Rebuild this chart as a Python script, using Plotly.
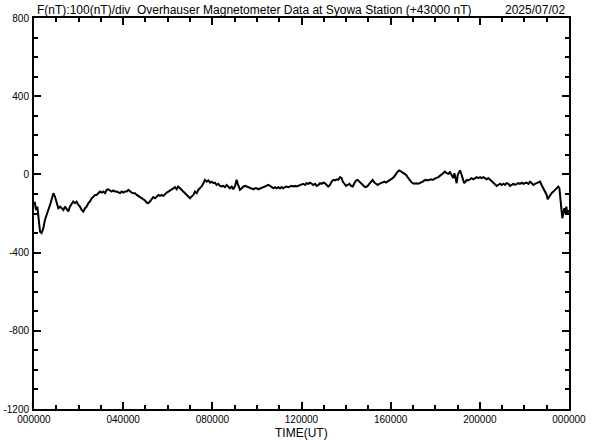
import plotly.graph_objects as go

# Time (hours UT) and F deviation (nT, offset +43000 nT)
time_h = [
    0.03, 0.09, 0.15, 0.21, 0.27, 0.34, 0.42, 0.49, 0.57, 0.64, 0.72, 0.79, 0.87, 0.94,
    1.02, 1.09, 1.17, 1.24, 1.32, 1.39, 1.47, 1.54, 1.61, 1.69, 1.76, 1.84, 1.91, 1.99,
    2.06, 2.14, 2.21, 2.29, 2.36, 2.44, 2.51, 2.59, 2.66, 2.74, 2.81, 2.89, 2.96, 3.04,
    3.11, 3.19, 3.26, 3.33, 3.41, 3.48, 3.56, 3.63, 3.71, 3.78, 3.86, 3.93, 4.01, 4.08,
    4.16, 4.23, 4.31, 4.38, 4.46, 4.53, 4.61, 4.68, 4.76, 4.83, 4.90, 4.98, 5.05, 5.13,
    5.20, 5.28, 5.35, 5.43, 5.50, 5.58, 5.65, 5.73, 5.80, 5.88, 5.95, 6.03, 6.10,
    6.18, 6.25, 6.33, 6.40, 6.47, 6.55, 6.62, 6.70, 6.77, 6.85, 6.92, 7.00, 7.07, 7.15,
    7.22, 7.30, 7.37, 7.45, 7.52, 7.60, 7.67, 7.75, 7.82, 7.90, 7.97, 8.05, 8.12, 8.19,
    8.27, 8.34, 8.42, 8.49, 8.57, 8.64, 8.72, 8.79, 8.87, 8.94, 9.02, 9.09, 9.14, 9.20,
    9.24, 9.32, 9.39, 9.47, 9.54, 9.62, 9.69, 9.76, 9.84, 9.91, 9.99, 10.06, 10.14, 10.21,
    10.29, 10.36, 10.44, 10.51, 10.59, 10.66, 10.74, 10.81, 10.89, 10.96, 11.04, 11.11,
    11.18, 11.26, 11.33, 11.41, 11.48, 11.56, 11.63, 11.71, 11.78, 11.86, 11.93,
    12.01, 12.08, 12.16, 12.23, 12.31, 12.38, 12.46, 12.53, 12.61, 12.68, 12.76, 12.83,
    12.90, 12.98, 13.05, 13.13, 13.20, 13.28, 13.35, 13.43, 13.50, 13.58, 13.65, 13.73,
    13.80, 13.85, 13.91, 14.00, 14.07, 14.15, 14.22, 14.30, 14.37, 14.45, 14.52, 14.59,
    14.67, 14.74, 14.82, 14.89, 14.97, 15.04, 15.12, 15.19, 15.27, 15.34, 15.42, 15.49,
    15.57, 15.64, 15.72, 15.79, 15.87, 15.94, 16.02, 16.09, 16.16, 16.24, 16.31, 16.39,
    16.46, 16.54, 16.61, 16.69, 16.76, 16.84, 16.91, 16.99, 17.06, 17.14, 17.21, 17.29,
    17.36, 17.44, 17.51, 17.59, 17.66, 17.73, 17.81, 17.88, 17.96, 18.03,
    18.14, 18.21, 18.29, 18.36, 18.44, 18.51, 18.59, 18.66, 18.74, 18.81, 18.86, 18.92,
    18.96, 19.01, 19.07, 19.11, 19.16, 19.21, 19.26, 19.30, 19.36, 19.41, 19.48, 19.56,
    19.63, 19.71, 19.78, 19.86, 19.93, 20.01, 20.08, 20.16, 20.23, 20.31, 20.38, 20.46,
    20.53, 20.61, 20.68, 20.76, 20.83, 20.91, 20.98, 21.06, 21.13, 21.20, 21.28, 21.35,
    21.43, 21.50, 21.58, 21.65, 21.73, 21.80, 21.88, 21.95, 22.03, 22.10, 22.18, 22.25,
    22.33, 22.40, 22.48, 22.55, 22.62, 22.70, 22.77, 22.85, 22.92, 23.00, 23.04, 23.10,
    23.16, 23.22, 23.30, 23.37, 23.45, 23.52, 23.57, 23.61, 23.66, 23.70, 23.75, 23.79,
    23.84, 23.88, 23.93, 23.97,
]
f_nt = [
    -140, -182, -165, -224, -293, -300, -275, -233, -198, -182, -156, -122, -96, -113,
    -140, -173, -165, -173, -182, -165, -182, -190, -165, -147, -139, -147, -139, -156,
    -165, -182, -190, -173, -165, -147, -139, -122, -113, -105, -105, -96, -88, -93,
    -88, -96, -79, -76, -82, -88, -82, -88, -88, -93, -96, -88, -93, -88,
    -88, -79, -88, -93, -96, -96, -105, -110, -113, -122, -127, -133, -144, -147,
    -139, -127, -116, -122, -113, -105, -110, -105, -110, -99, -93, -88, -82,
    -76, -71, -65, -76, -62, -71, -79, -88, -96, -105, -113, -122, -113, -105,
    -88, -96, -79, -71, -62, -45, -28, -37, -31, -42, -37, -45, -42, -54,
    -48, -59, -62, -59, -65, -54, -62, -71, -62, -76, -59, -28, -48, -71,
    -79, -71, -62, -59, -62, -65, -71, -71, -76, -71, -71, -76, -71, -71,
    -65, -62, -59, -54, -59, -65, -71, -65, -71, -65, -71, -65,
    -71, -65, -62, -65, -62, -59, -62, -59, -62, -59, -54,
    -54, -48, -54, -45, -48, -42, -48, -54, -48, -59, -54, -45,
    -48, -42, -45, -54, -62, -54, -37, -28, -31, -25, -28, -14,
    -19, -37, -48, -59, -54, -48, -59, -62, -45, -31, -28, -37,
    -42, -54, -62, -65, -59, -48, -37, -28, -42, -48, -54, -48,
    -45, -42, -37, -42, -37, -31, -25, -19, -11, 3, 14, 20,
    14, 9, 3, -2, -14, -28, -37, -45, -48, -45, -48, -45,
    -42, -37, -31, -28, -31, -28, -25, -28, -25, -19,
    -14, -8, -2, 6, 14, 6, 3, 11, -2, -19, 6, -28,
    -45, -2, 9, 20, 6, -11, -28, -45, -37, -28, -31, -25,
    -19, -25, -19, -14, -19, -14, -19, -14, -19, -25, -19, -28,
    -37, -45, -54, -59, -54, -48, -54, -48, -54, -45, -48, -59,
    -54, -48, -54, -48, -45, -48, -42, -48, -45, -42, -48, -37,
    -45, -54, -48, -45, -42, -37, -54, -71, -88, -105, -127, -116,
    -105, -96, -88, -79, -71, -62, -71, -133, -182, -224, -198, -173,
    -198, -165, -207, -182,
]

x_tick_vals = [0, 4, 8, 12, 16, 20, 24]
x_tick_text = ["000000", "040000", "080000", "120000", "160000", "200000", "000000"]
y_tick_vals = [800, 400, 0, -400, -800, -1200]
y_tick_text = ["800", "400", "0", "-400", "-800", "-1200"]

title_text = "F(nT):100(nT)/div  Overhauser Magnetometer Data at Syowa Station (+43000 nT)"
date_text = "2025/07/02"
x_title = "TIME(UT)"

FONT = "Liberation Sans, Arial, sans-serif"
X_RANGE = [0, 24]
Y_RANGE = [-1200, 800]

fig = go.Figure()
fig.add_trace(go.Scatter(
    x=time_h, y=f_nt, mode="lines",
    line=dict(color="black", width=2),
    hoverinfo="skip", showlegend=False,
))
# empty trace to activate the top/right tick axes
fig.add_trace(go.Scatter(x=[None], y=[None], xaxis="x2", yaxis="y2",
                         mode="lines", hoverinfo="skip", showlegend=False))

fig.update_layout(
    width=592, height=440,
    margin=dict(l=34, r=23, t=18, b=31),
    paper_bgcolor="white", plot_bgcolor="white",
    font=dict(family=FONT, color="black", size=10),
    showlegend=False,
)

common_tick = dict(showgrid=False, zeroline=False, showline=True, linecolor="black",
                   linewidth=2, ticks="inside", ticklen=7, tickwidth=2,
                   tickcolor="black", automargin=False)

fig.update_layout(
    xaxis=dict(range=X_RANGE, tickvals=x_tick_vals, ticktext=x_tick_text,
               tickfont=dict(family=FONT, size=10),
               minor=dict(dtick=1, ticks="inside", ticklen=4, tickwidth=2,
                          tickcolor="black", showgrid=False),
               **common_tick),
    yaxis=dict(range=Y_RANGE, tickvals=y_tick_vals, ticktext=y_tick_text,
               tickfont=dict(family=FONT, size=10), ticklabelstandoff=1,
               minor=dict(dtick=100, ticks="inside", ticklen=4, tickwidth=2,
                          tickcolor="black", showgrid=False),
               **common_tick),
    xaxis2=dict(range=X_RANGE, overlaying="x", side="top", tickvals=x_tick_vals,
                showticklabels=False,
                minor=dict(dtick=1, ticks="inside", ticklen=4, tickwidth=2,
                           tickcolor="black", showgrid=False),
                **common_tick),
    yaxis2=dict(range=Y_RANGE, overlaying="y", side="right", tickvals=y_tick_vals,
                showticklabels=False,
                minor=dict(dtick=100, ticks="inside", ticklen=4, tickwidth=2,
                           tickcolor="black", showgrid=False),
                **common_tick),
)

fig.add_annotation(text=title_text, xref="paper", yref="paper", x=0.002, y=1.0,
                   xanchor="left", yanchor="bottom", showarrow=False,
                   font=dict(family=FONT, size=12), yshift=-1)
fig.add_annotation(text=date_text, xref="paper", yref="paper", x=0.997, y=1.0,
                   xanchor="right", yanchor="bottom", showarrow=False,
                   font=dict(family=FONT, size=12), yshift=-1)
fig.add_annotation(text=x_title, xref="paper", yref="paper", x=0.5, y=0.0,
                   xanchor="center", yanchor="top", showarrow=False,
                   font=dict(family=FONT, size=12), yshift=-15)

fig.write_html("out.html",
               config={"displayModeBar": False},
               post_script="document.body.style.margin='0';document.body.style.overflow='hidden';")
